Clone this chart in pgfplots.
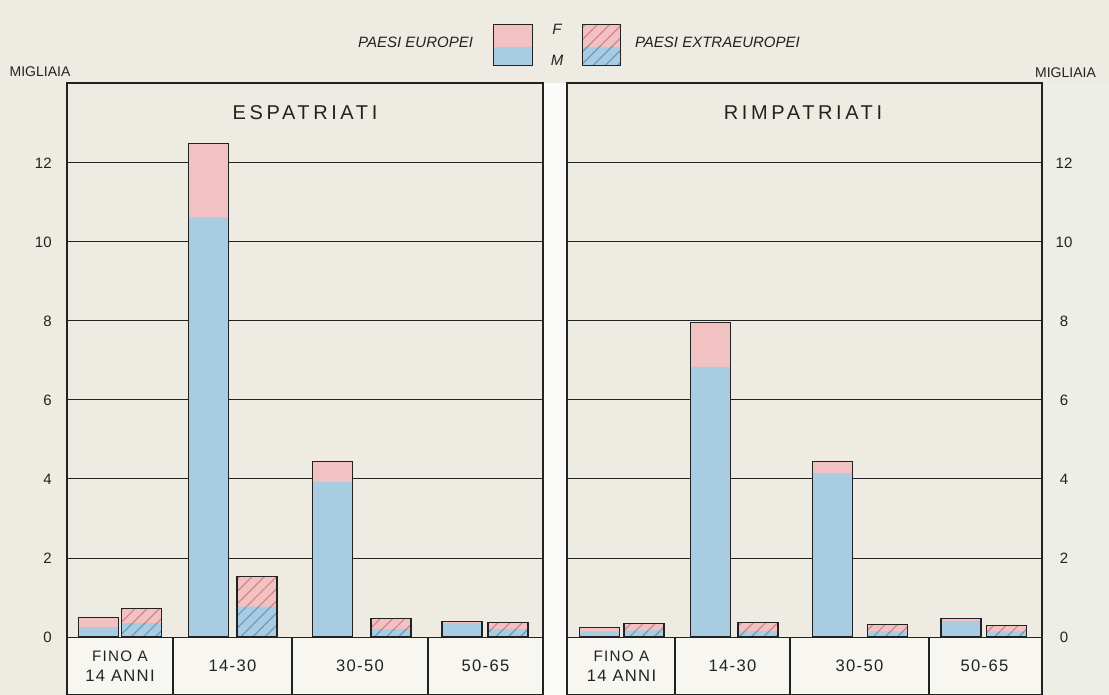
\documentclass[border=0pt]{standalone}
\usepackage{fontspec}
\setmainfont{Liberation Sans}
\newfontfamily\spaced[LetterSpace=18]{Liberation Sans}
\newfontfamily\catf[LetterSpace=8]{Liberation Sans}
\usepackage{pgfplots}
\usepackage{pgfplotstable}
\pgfplotsset{compat=1.18}
\usetikzlibrary{patterns.meta}

\definecolor{bg}{HTML}{EEEBE2}
\definecolor{boxc}{HTML}{F7F6F1}
\definecolor{gapc}{HTML}{FAFAF8}
\definecolor{rmar}{HTML}{EDEFE6}
\definecolor{pinkF}{HTML}{F2C2C3}
\definecolor{blueM}{HTML}{A8CDE2}
\definecolor{pinkH}{HTML}{D5828B}
\definecolor{blueH}{HTML}{6A9BBE}
\definecolor{ink}{HTML}{222222}

% x = horizontal position (pixel units of the original), tot = F+M, m = M
\pgfplotstableread{
x tot m
98.5 0.50 0.25
208.5 12.50 10.63
332.5 4.45 3.92
462 0.40 0.35
}\espEu
\pgfplotstableread{
x tot m
141.5 0.72 0.35
257 1.53 0.77
391 0.47 0.20
508 0.36 0.20
}\espEx
\pgfplotstableread{
x tot m
599.5 0.24 0.14
710.5 7.97 6.84
832.5 4.45 4.15
961 0.47 0.40
}\rimEu
\pgfplotstableread{
x tot m
644 0.34 0.17
758 0.37 0.15
887.5 0.32 0.14
1006.5 0.30 0.14
}\rimEx

\pgfplotsset{
 mybar/.style={ybar, bar width=40, bar shift=0pt, draw=none},
 fEu/.style={mybar, fill=pinkF},
 mEu/.style={mybar, fill=blueM},
 fEx/.style={mybar, fill=pinkF, postaction={pattern color=pinkH, pattern={Lines[angle=45,distance=4.3pt,line width=0.6pt]}}},
 mEx/.style={mybar, fill=blueM, postaction={pattern color=blueH, pattern={Lines[angle=45,distance=4.3pt,line width=0.6pt]}}},
 outl/.style={ybar, bar width=40, bar shift=0pt, fill=none, draw=ink, line width=0.6pt},
 panel/.style={
  scale only axis, height=306pt, ymin=-1.468, ymax=14.025,
  axis line style={ink, line width=0.6pt},
  ytick={0,2,...,12}, ymajorgrids, grid style={ink, line width=0.5pt},
  major tick length=0pt,
  /pgf/number format/assume math mode=true,
  tick label style={font=\fontsize{7.5}{9}\selectfont, text=ink},
  xticklabel style={font=\catf\fontsize{8.3}{10}\selectfont, align=center, anchor=center, yshift=14.5pt},
  xticklabels={{\fontsize{7.6}{10}\selectfont FINO A\\14 ANNI},{14-30},{30-50},{50-65}},
 },
}

\begin{document}
\begin{tikzpicture}[x=1pt,y=1pt]
\fill[bg] (0,0) rectangle (554.5,347.5);
\fill[rmar] (521,0) rectangle (554.5,306);
\fill[gapc] (271.5,0) rectangle (283.5,306);
\fill[boxc] (33.5,0) rectangle (271.5,29);
\fill[boxc] (283.5,0) rectangle (521,29);

% left panel
\begin{axis}[panel, at={(33.5pt,0pt)}, anchor=south west, width=238pt,
  xmin=67, xmax=543, xtick={120,232.5,360,485.5},
  yticklabel pos=left, yticklabel style={anchor=east, inner sep=0pt, xshift=-7.5pt}]
\draw[ink, line width=0.6pt] (axis cs:173,-1.468) -- (axis cs:173,0)
  (axis cs:292,-1.468) -- (axis cs:292,0) (axis cs:428,-1.468) -- (axis cs:428,0);
\addplot[fEu] table[x=x,y=tot]{\espEu};
\addplot[mEu] table[x=x,y=m]{\espEu};
\addplot[outl] table[x=x,y=tot]{\espEu};
\addplot[fEx] table[x=x,y=tot]{\espEx};
\addplot[mEx] table[x=x,y=m]{\espEx};
\addplot[outl] table[x=x,y=tot]{\espEx};
\end{axis}

% right panel
\begin{axis}[panel, at={(283.5pt,0pt)}, anchor=south west, width=237.5pt,
  xmin=567, xmax=1042, xtick={621.5,732.5,859.5,984.5},
  yticklabel pos=right, yticklabel style={anchor=center, inner sep=0pt, xshift=11pt}]
\draw[ink, line width=0.6pt] (axis cs:675,-1.468) -- (axis cs:675,0)
  (axis cs:790,-1.468) -- (axis cs:790,0) (axis cs:929,-1.468) -- (axis cs:929,0);
\addplot[fEu] table[x=x,y=tot]{\rimEu};
\addplot[mEu] table[x=x,y=m]{\rimEu};
\addplot[outl] table[x=x,y=tot]{\rimEu};
\addplot[fEx] table[x=x,y=tot]{\rimEx};
\addplot[mEx] table[x=x,y=m]{\rimEx};
\addplot[outl] table[x=x,y=tot]{\rimEx};
\end{axis}

% titles
\node[font=\spaced\fontsize{10}{12}\selectfont, text=ink] at (152.5,291) {ESPATRIATI};
\node[font=\spaced\fontsize{10}{12}\selectfont, text=ink] at (401.5,291) {RIMPATRIATI};
\node[font=\fontsize{7}{8}\selectfont, text=ink] at (20,311.5) {MIGLIAIA};
\node[font=\fontsize{7}{8}\selectfont, text=ink] at (532.75,311) {MIGLIAIA};

% legend
\node[font=\itshape\fontsize{7.5}{9}\selectfont, text=ink, anchor=east] at (240,326.5) {PAESI EUROPEI};
\fill[pinkF] (246.5,324) rectangle (266,335);
\fill[blueM] (246.5,314.5) rectangle (266,324);
\draw[ink, line width=0.5pt] (246.5,314.5) rectangle (266,335);
\node[font=\itshape\fontsize{7.5}{9}\selectfont, text=ink] at (278.5,333) {F};
\node[font=\itshape\fontsize{7.5}{9}\selectfont, text=ink] at (278.5,317.5) {M};
\fill[pinkF] (291,324) rectangle (310,335);
\fill[blueM] (291,314.5) rectangle (310,324);
\fill[pattern color=pinkH, pattern={Lines[angle=45,distance=4.3pt,line width=0.6pt]}] (291,324) rectangle (310,335);
\fill[pattern color=blueH, pattern={Lines[angle=45,distance=4.3pt,line width=0.6pt]}] (291,314.5) rectangle (310,324);
\draw[ink, line width=0.5pt] (291,314.5) rectangle (310,335);
\node[font=\itshape\fontsize{7.5}{9}\selectfont, text=ink, anchor=west] at (314,326.5) {PAESI EXTRAEUROPEI};

\pgfresetboundingbox
\useasboundingbox (0,0) rectangle (554.5,347.5);
\end{tikzpicture}
\end{document}
